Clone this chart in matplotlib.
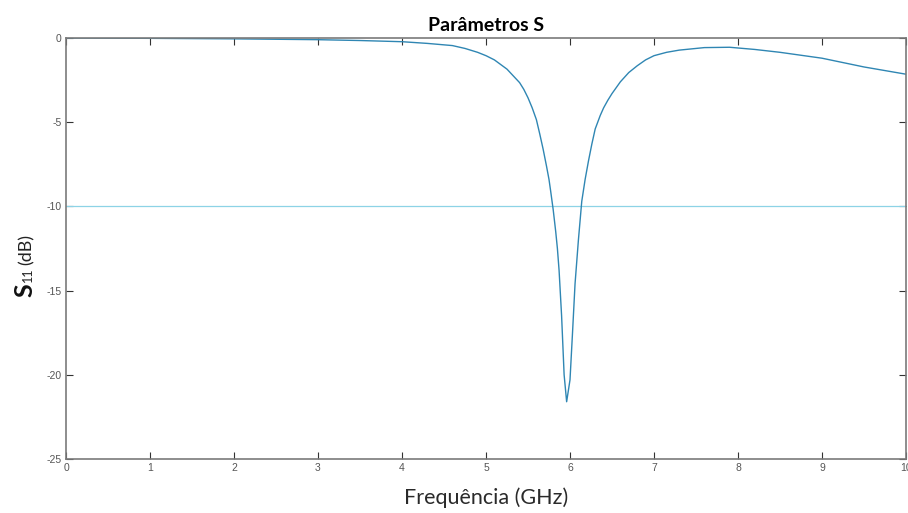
import numpy as np
import matplotlib.pyplot as plt

plt.rcParams['axes.unicode_minus'] = False

# Frequency (GHz) and S11 (dB)
freq = [0, 1, 2, 3, 3.5, 4, 4.3, 4.6, 4.75, 4.9, 5.0, 5.1, 5.25, 5.4, 5.45,
        5.5, 5.55, 5.6, 5.64, 5.68, 5.72, 5.75, 5.77, 5.8, 5.83, 5.85, 5.87,
        5.9, 5.93, 5.96, 6.0, 6.03, 6.06, 6.1, 6.14, 6.18, 6.22, 6.26, 6.3,
        6.36, 6.4, 6.45, 6.5, 6.6, 6.7, 6.8, 6.9, 7.0, 7.15, 7.3, 7.6, 7.9,
        8.2, 8.5, 9.0, 9.5, 10]
s11 = [0, -0.02, -0.05, -0.1, -0.15, -0.22, -0.32, -0.45, -0.62, -0.85,
       -1.05, -1.3, -1.85, -2.65, -3.05, -3.55, -4.15, -4.85, -5.7, -6.6,
       -7.6, -8.4, -9.1, -10.2, -11.5, -12.5, -13.8, -16.5, -20.0, -21.6,
       -20.3, -17.5, -14.6, -12.0, -9.7, -8.4, -7.3, -6.3, -5.4, -4.6, -4.15,
       -3.7, -3.3, -2.6, -2.05, -1.65, -1.3, -1.05, -0.85, -0.72, -0.57,
       -0.55, -0.68, -0.85, -1.2, -1.72, -2.15]
threshold = -10

xticks = list(range(0, 11))
yticks = [0, -5, -10, -15, -20, -25]

fig = plt.figure(figsize=(9.08, 5.13), dpi=100)
ax = fig.add_axes([66/908, 1 - 459/513, 840/908, 421/513])

ax.axhline(threshold, color='#8dd3e6', lw=0.9)
ax.plot(freq, s11, color='#2f86b3', lw=1.0)

ax.set_xlim(0, 10)
ax.set_ylim(-25, 0)
ax.set_xticks(xticks)
ax.set_yticks(yticks)
ax.tick_params(direction='in', length=5, width=0.8, color='#333333',
               top=True, right=True, labelsize=7.5, labelcolor='#555555', pad=3)
for lab in ax.get_xticklabels() + ax.get_yticklabels():
    lab.set_fontfamily('Liberation Sans')
for s in ax.spines.values():
    s.set_color('#7a7a7a')
    s.set_linewidth(1.2)

ax.set_title('Parâmetros S', fontfamily='Lato', fontweight='bold',
             fontsize=14, pad=5)
ax.set_xlabel('Frequência (GHz)', fontfamily='Lato', fontsize=15.5,
              color='#2a2a2a', labelpad=10)

# y label: big bold S, small 11, then (dB), rotated
fig.canvas.draw()
r = fig.canvas.get_renderer()
x0, y0 = 32, 513 - 297
t1 = fig.text(x0, y0, 'S', transform=None, rotation=90, rotation_mode='anchor',
              ha='left', va='baseline', fontfamily='Lato', fontweight='bold',
              fontsize=18, color='#111111')
y1 = t1.get_window_extent(r).y1
t2 = fig.text(x0, y1 + 1, '11', transform=None, rotation=90,
              rotation_mode='anchor', ha='left', va='baseline',
              fontfamily='Lato', fontsize=9, color='#222222')
y2 = t2.get_window_extent(r).y1
fig.text(x0, y2 + 3, '(dB)', transform=None, rotation=90,
         rotation_mode='anchor', ha='left', va='baseline',
         fontfamily='Lato', fontsize=13, color='#222222')

fig.savefig('out.png', dpi=100)
